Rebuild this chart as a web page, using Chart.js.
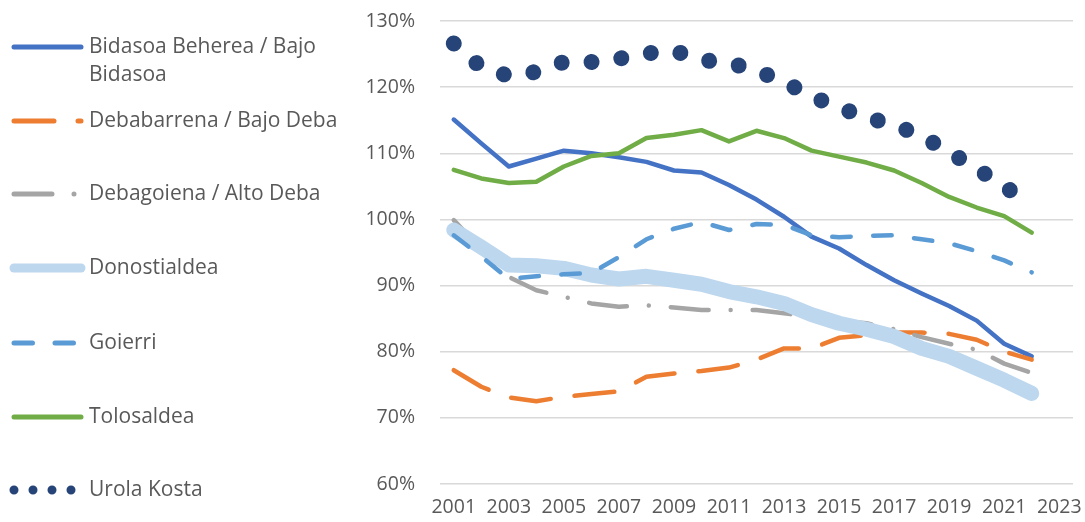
<!DOCTYPE html>
<html>
<head>
<meta charset="utf-8">
<script src="https://cdn.jsdelivr.net/npm/chart.js@4.4.0/dist/chart.umd.min.js"></script>
<style>
  html, body { margin: 0; padding: 0; background: #fff; }
  #wrap { width: 1085px; height: 522px; }
</style>
</head>
<body>
<div id="wrap"><canvas id="chart"></canvas></div>
<script>
// years on the axis (data runs 2001-2022)
const years = ['2001','2002','2003','2004','2005','2006','2007','2008','2009','2010','2011','2012',
  '2013','2014','2015','2016','2017','2018','2019','2020','2021','2022','2023'];

const seriesNames = ['Bidasoa Beherea / Bajo Bidasoa', 'Debabarrena / Bajo Deba', 'Debagoiena / Alto Deba',
  'Donostialdea', 'Goierri', 'Tolosaldea', 'Urola Kosta'];

const bidasoa = [115.1, 111.5, 108.0, 109.2, 110.4, 110.0, 109.4, 108.7, 107.4, 107.1, 105.2,
  103.0, 100.4, 97.4, 95.6, 93.1, 90.8, 88.8, 86.9, 84.7, 81.2, 79.3];
const debabarrena = [77.2, 74.7, 73.1, 72.5, 73.2, 73.6, 74.0, 76.2, 76.7, 77.1, 77.6,
  78.8, 80.5, 80.5, 82.1, 82.5, 82.9, 82.9, 82.7, 81.8, 80.0, 78.8];
const debagoiena = [99.9, 95.5, 91.3, 89.3, 88.3, 87.3, 86.8, 87.0, 86.7, 86.3, 86.3,
  86.3, 85.8, 85.3, 84.7, 84.3, 83.4, 82.2, 81.2, 80.3, 78.2, 76.8];
const donostialdea = [98.4, 95.8, 93.1, 93.0, 92.6, 91.6, 91.0, 91.4, 90.8, 90.2, 89.1,
  88.3, 87.3, 85.6, 84.3, 83.4, 82.3, 80.5, 79.3, 77.5, 75.7, 73.7];
const goierri = [97.6, 94.4, 91.0, 91.4, 91.7, 91.9, 94.3, 97.0, 98.6, 99.6, 98.4,
  99.3, 99.2, 97.6, 97.3, 97.5, 97.6, 97.0, 96.4, 95.2, 93.8, 92.0];
const tolosaldea = [107.5, 106.2, 105.5, 105.7, 108.0, 109.6, 110.0, 112.3, 112.8, 113.5, 111.8,
  113.4, 112.3, 110.4, 109.5, 108.6, 107.4, 105.5, 103.4, 101.8, 100.5, 98.0];
const urolaKosta = [126.6, 123.0, 121.7, 122.3, 123.8, 123.8, 124.3, 125.1, 125.5, 124.1, 123.7,
  122.5, 120.8, 118.6, 116.9, 115.4, 114.3, 112.6, 110.2, 107.7, 105.0, 102.2];

const textColor = '#595959';
const fontFamily = '"Open Sans", "Noto Sans", sans-serif';

function line(i, data, color, width, dash, legendWidth) {
  return {
    label: seriesNames[i],
    data: data,
    borderColor: color,
    backgroundColor: color,
    borderWidth: width,
    borderDash: dash,
    legendWidth: legendWidth,
    fill: false,
    order: 10 - i   // later series drawn on top, like Excel
  };
}

const datasets = [
  line(0, bidasoa, '#4472C4', 4.5, [], 5),
  line(1, debabarrena, '#ED7D31', 4.5, [40, 24], 5),
  line(2, debagoiena, '#A5A5A5', 4.5, [38, 22, 0.001, 22], 5),
  line(3, donostialdea, '#BDD7EE', 15, [], 9),
  line(4, goierri, '#5B9BD5', 4.5, [18.5, 22.5], 5),
  line(5, tolosaldea, '#70AD47', 4.5, [], 5),
  line(6, urolaKosta, '#264478', 16, [0.001, 30], 9)
];

// legend on the left, drawn on the canvas
const sideLegend = {
  id: 'sideLegend',
  afterDraw(chart) {
    const c = chart.ctx;
    const rows = [47, 121, 194, 268, 343, 417, 490];
    c.save();
    c.font = '21px ' + fontFamily;
    c.textBaseline = 'middle';
    chart.data.datasets.forEach((ds, i) => {
      const y = rows[i];
      c.lineCap = 'round';
      c.strokeStyle = ds.borderColor;
      c.lineWidth = ds.legendWidth;
      if (i === 6) {
        c.setLineDash([0.001, 19]);
        c.beginPath(); c.moveTo(14, y); c.lineTo(72, y); c.stroke();
      } else {
        c.setLineDash(ds.borderDash);
        c.beginPath(); c.moveTo(14, y); c.lineTo(81, y); c.stroke();
      }
      c.setLineDash([]);

      // simple word wrap
      const words = ds.label.split(' ');
      const lines = [];
      let cur = '';
      words.forEach(w => {
        const test = cur ? cur + ' ' + w : w;
        if (c.measureText(test).width > 262 && cur) { lines.push(cur); cur = w; }
        else cur = test;
      });
      lines.push(cur);
      c.fillStyle = textColor;
      lines.forEach((t, k) => c.fillText(t, 89, y + k * 28));
    });
    c.restore();
  }
};

new Chart(document.getElementById('chart'), {
  type: 'line',
  data: { labels: years, datasets: datasets },
  options: {
    responsive: true,
    maintainAspectRatio: false,
    animation: false,
    layout: { padding: { left: 340, top: 21, right: 12, bottom: 0 } },
    plugins: { legend: { display: false }, tooltip: { enabled: false } },
    elements: {
      point: { radius: 0, hoverRadius: 0 },
      line: { tension: 0, borderJoinStyle: 'round', borderCapStyle: 'round' }
    },
    scales: {
      x: {
        offset: true,
        grid: { display: false, drawTicks: true, tickLength: 12, tickColor: 'rgba(0,0,0,0)' },
        border: { display: false },
        ticks: {
          autoSkip: false,
          maxRotation: 0,
          padding: 0,
          color: textColor,
          font: { family: fontFamily, size: 19.5 },
          callback: (v, i) => (i % 2 === 0 ? years[i] : '')
        },
        afterFit: s => { s.height = 38; }
      },
      y: {
        min: 60,
        max: 130,
        border: { display: false },
        grid: { color: '#D9D9D9', lineWidth: 1.5, drawTicks: true, tickLength: 25, tickColor: 'rgba(0,0,0,0)' },
        ticks: {
          stepSize: 10,
          padding: 0,
          color: textColor,
          font: { family: fontFamily, size: 19.5 },
          callback: v => v + '%'
        },
        afterFit: s => { s.width = 100; }
      }
    }
  },
  plugins: [sideLegend]
});
</script>
</body>
</html>
